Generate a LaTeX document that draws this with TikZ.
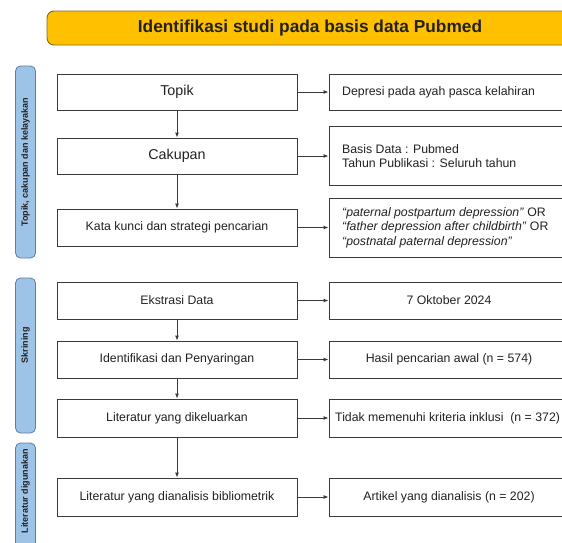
\documentclass[tikz,border=0pt]{standalone}
\usepackage{fontspec}
\setmainfont{Liberation Sans}
\usetikzlibrary{arrows.meta}
\definecolor{banfill}{HTML}{FFC000}
\definecolor{banline}{HTML}{8A6A10}
\definecolor{sidefill}{HTML}{9DC3E6}
\definecolor{sideline}{HTML}{5A7FA8}
\definecolor{boxline}{HTML}{3A3A3A}
\definecolor{txt}{HTML}{222222}
\tikzset{
  flowbox/.style={draw=boxline, line width=0.9pt, fill=white, minimum width=240pt, inner sep=0pt, text=txt},
  bigtxt/.style={font=\fontsize{14.3}{16}\selectfont},
  smalltxt/.style={font=\fontsize{12.3}{14.5}\selectfont},
  sidebox/.style={draw=sideline, line width=0.8pt, fill=sidefill, rounded corners=5pt},
  sidetxt/.style={rotate=90, font=\bfseries\fontsize{9}{10}\selectfont, text=txt},
  conn/.style={draw=boxline, line width=0.9pt, -{Latex[length=5pt,width=4pt]}}
}
\begin{document}
\begin{tikzpicture}[x=1pt,y=-1pt]
\useasboundingbox (0,0) rectangle (562,542);
\clip (0,0) rectangle (562,542);
\fill[white] (0,0) rectangle (562,542);
% banner
\node[draw=banline, line width=0.9pt, fill=banfill, rounded corners=7pt, minimum width=526pt, minimum height=34pt, inner sep=0pt] (banner) at (310,28) {};
\node[font=\bfseries\fontsize{17.3}{19}\selectfont, text=txt] (title) at (310,28) {Identifikasi studi pada basis data Pubmed};
% side labels
\draw[sidebox] (15.5,66) rectangle (35.5,258);
\node[sidetxt] (s1) at (25.5,162) {Topik, cakupan dan kelayakan};
\draw[sidebox] (15.5,278) rectangle (35.5,433);
\node[sidetxt] (s2) at (25.5,345) {Skrining};
\draw[sidebox] (15.5,443) rectangle (35.5,570);
\node[sidetxt] (s3) at (25.5,491) {Literatur digunakan};
% left boxes
\node[flowbox, bigtxt, minimum height=36pt] (l1) at (177,92) {Topik};
\node[flowbox, bigtxt, minimum height=36pt] (l2) at (177,156) {Cakupan};
\node[flowbox, smalltxt, minimum height=37pt] (l3) at (177,227.5) {Kata kunci dan strategi pencarian};
\node[flowbox, smalltxt, minimum height=37pt] (l4) at (177,300.5) {Ekstrasi Data};
\node[flowbox, smalltxt, minimum height=37pt] (l5) at (177,359.5) {Identifikasi dan Penyaringan};
\node[flowbox, smalltxt, minimum height=38pt] (l6) at (177,418) {Literatur yang dikeluarkan};
\node[flowbox, smalltxt, minimum height=38pt] (l7) at (177,497) {Literatur yang dianalisis bibliometrik};
% right boxes
\node[flowbox, minimum height=36pt] (r1) at (449,92) {};
\node[smalltxt, text=txt, anchor=west, inner sep=0pt] (r1t) at (342,92) {Depresi pada ayah pasca kelahiran};
\node[flowbox, minimum height=59pt] (r2) at (449,155.5) {};
\node[smalltxt, text=txt, anchor=west, align=left, inner sep=0pt] (r2t) at (342,156) {Basis Data : Pubmed\\Tahun Publikasi : Seluruh tahun};
\node[flowbox, minimum height=59pt] (r3) at (449,227.5) {};
\node[smalltxt, text=txt, anchor=west, align=left, inner sep=0pt] (r3t) at (342,227.5) {\textit{“paternal postpartum depression”} OR\\\textit{“father depression after childbirth”} OR\\\textit{“postnatal paternal depression”}};
\node[flowbox, smalltxt, minimum height=37pt] (r4) at (449,300.5) {7 Oktober 2024};
\node[flowbox, smalltxt, minimum height=37pt] (r5) at (449,359.5) {Hasil pencarian awal (n = 574)};
\node[flowbox, minimum height=38pt] (r6) at (449,418) {};
\node[smalltxt, text=txt, anchor=west, inner sep=0pt] (r6t) at (335,418) {Tidak memenuhi kriteria inklusi\ \ (n = 372)};
\node[flowbox, smalltxt, minimum height=38pt] (r7) at (449,497) {Artikel yang dianalisis (n = 202)};
% vertical connectors
\draw[conn] (l1) -- (l2);
\draw[conn] (l2) -- (l3);
\draw[conn] (l4) -- (l5);
\draw[conn] (l5) -- (l6);
\draw[conn] (l6) -- (l7);
% horizontal connectors
\draw[conn] (l1.east) -- (r1.west);
\draw[conn] (l2.east) -- (r2.west |- l2.east);
\draw[conn] (l3.east) -- (r3.west);
\draw[conn] (l4.east) -- (r4.west);
\draw[conn] (l5.east) -- (r5.west);
\draw[conn] (l6.east) -- (r6.west);
\draw[conn] (l7.east) -- (r7.west);
\end{tikzpicture}
\end{document}
